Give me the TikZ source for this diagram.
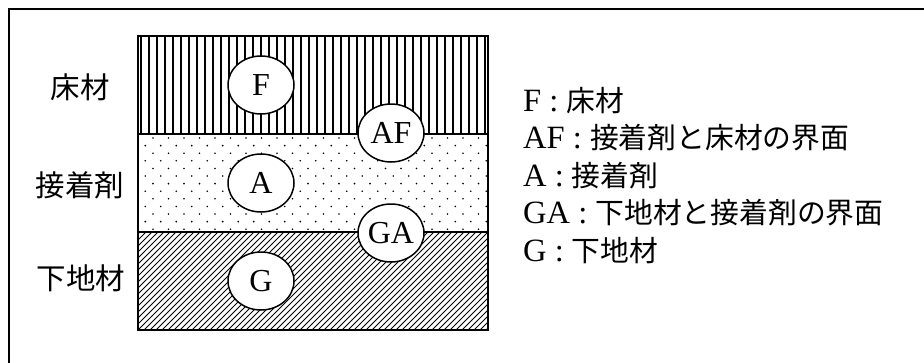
\documentclass[tikz,border=0pt]{standalone}
\usepackage{fontspec}
\setmainfont{Liberation Serif}
\newfontfamily\jpfont{Noto Sans CJK JP}
\newcommand\jpt[1]{{\jpfont\fontsize{28.8}{34}\selectfont #1}}
\usetikzlibrary{shapes.geometric}
\begin{document}
\begin{tikzpicture}[x=1pt,y=-1pt,
  tag/.style={ellipse, draw, line width=1.5pt, fill=white, minimum width=66pt, minimum height=58pt, inner sep=0pt, font=\fontsize{32}{36}\selectfont},
  lbl/.style={inner sep=0pt, font=\jpfont\fontsize{29.5}{34}\selectfont},
  leg/.style={inner sep=0pt, anchor=west, font=\fontsize{32.5}{36}\selectfont}]
\useasboundingbox (0,0) rectangle (924,362);
\clip (0,0) rectangle (924,362);
\draw[line width=2pt] (9,370) -- (9,9) -- (930,9);
% floor material: vertical lines
\begin{scope}
\clip (138,36) rectangle (488,134);
\foreach \i in {0,...,44} \draw[line width=1.7pt] (141+8*\i,36) -- (141+8*\i,134);
\end{scope}
% adhesive: staggered dots
\begin{scope}
\clip (138,134) rectangle (488,232);
\foreach \j in {0,2,...,12} \foreach \i in {0,...,22} \fill (153+15.5*\i,138+7.6*\j) circle (0.9pt);
\foreach \j in {1,3,...,11} \foreach \i in {0,...,22} \fill (145.25+15.5*\i,138+7.6*\j) circle (0.9pt);
\end{scope}
% substrate: diagonal hatch
\begin{scope}
\clip (138,232) rectangle (488,330);
\foreach \i in {-18,...,60} \draw[line width=1pt] (138+6*\i,330) -- ++(98,-98);
\end{scope}
\draw[line width=1.6pt] (138,36) rectangle (488,330);
\draw[line width=1.6pt] (138,134) -- (488,134);
\draw[line width=1.6pt] (138,232) -- (488,232);
% circles
\node[tag] (F) at (261,85) {F};
\node[tag] (AF) at (391,133) {AF};
\node[tag] (A) at (261,183) {A};
\node[tag] (GA) at (391,233) {GA};
\node[tag] (G) at (261,281) {G};
% layer labels
\node[lbl] (lF) at (80,87) {床材};
\node[lbl] (lA) at (80,185) {接着剤};
\node[lbl] (lG) at (81,278) {下地材};
% legend
\node[leg] (k1) at (523,101) {F : \jpt{床材}};
\node[leg] (k2) at (523,138) {AF : \jpt{接着剤と床材の界面}};
\node[leg] (k3) at (523,176) {A : \jpt{接着剤}};
\node[leg] (k4) at (523,213) {GA : \jpt{下地材と接着剤の界面}};
\node[leg] (k5) at (523,251) {G : \jpt{下地材}};
\end{tikzpicture}
\end{document}
